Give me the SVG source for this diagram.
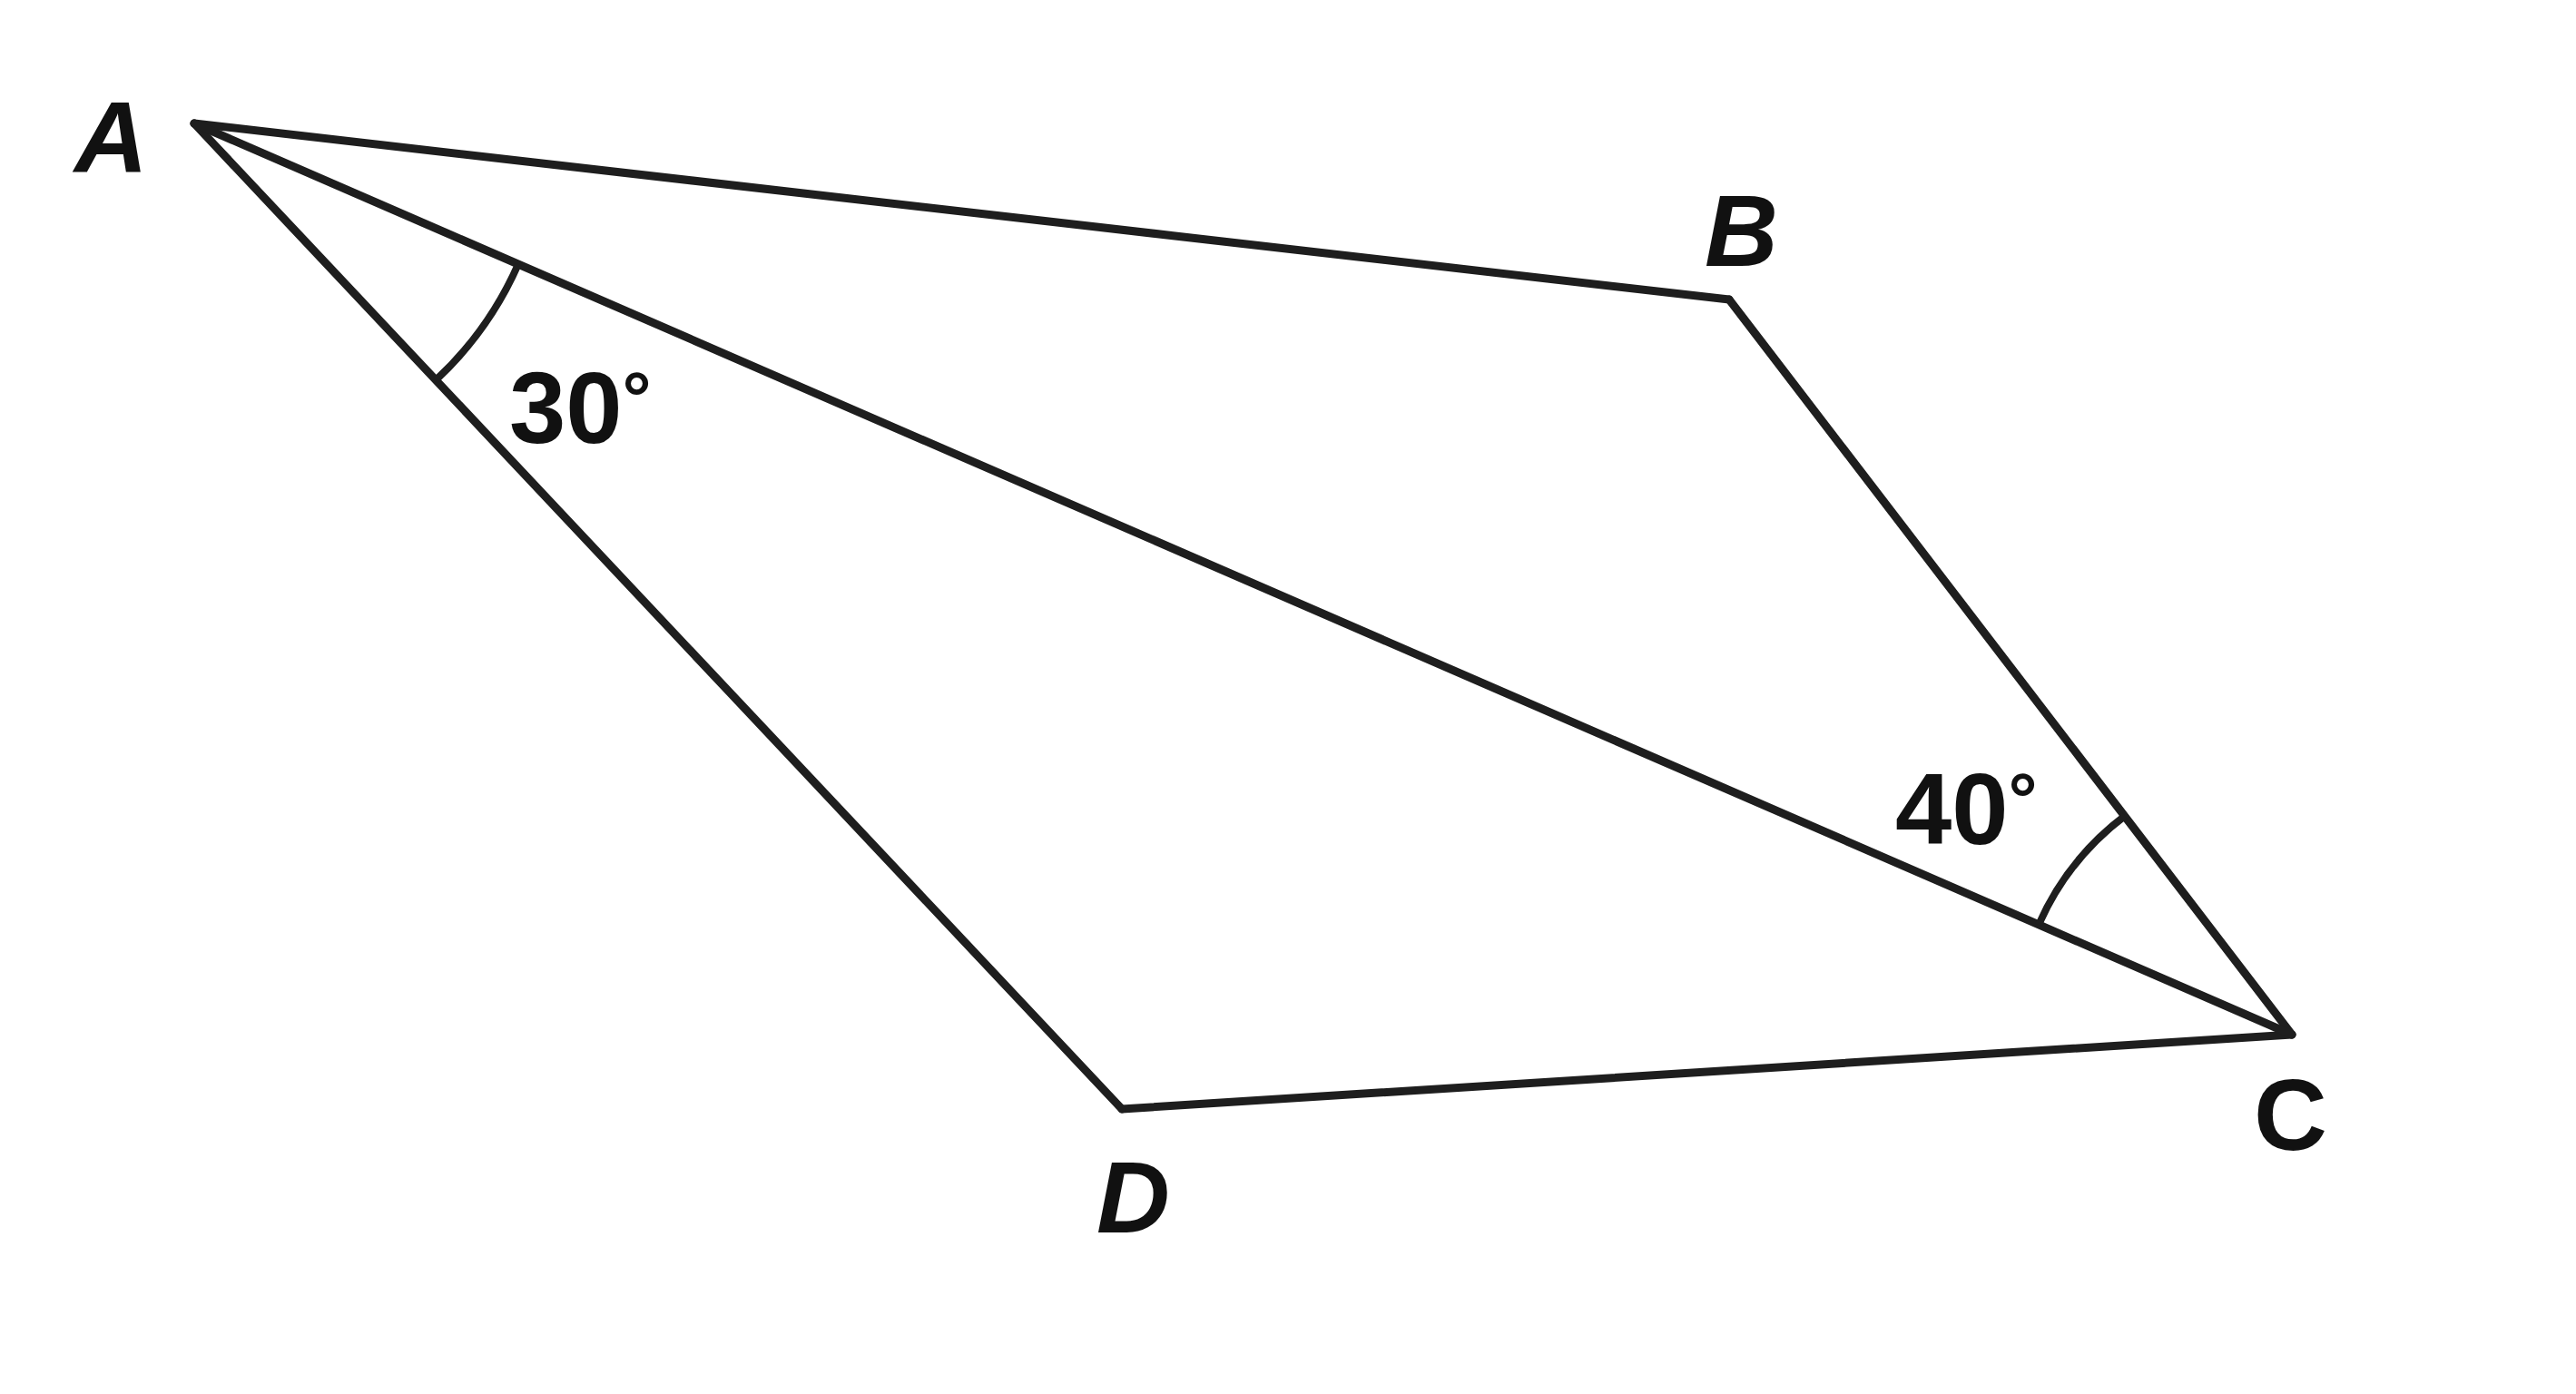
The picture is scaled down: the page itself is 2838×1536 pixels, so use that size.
<svg xmlns="http://www.w3.org/2000/svg" width="2838" height="1536" viewBox="0 0 2838 1536">
<style>
.edge{stroke:#1e1e1e;stroke-width:9;fill:none;stroke-linecap:round;stroke-linejoin:round}
.arc{stroke:#1e1e1e;stroke-width:8;fill:none}
.lbl{font-family:"Liberation Sans",Arial,sans-serif;font-size:112px;fill:#111;font-weight:bold}
.it{font-style:italic}
.deg{font-size:80px}
</style>
<rect width="2838" height="1536" fill="#ffffff"/>
<g id="connectors">
<line class="edge" x1="214" y1="136" x2="1905" y2="330"/>
<line class="edge" x1="1905" y1="330" x2="2525" y2="1140"/>
<line class="edge" x1="2525" y1="1140" x2="1236" y2="1222"/>
<line class="edge" x1="1236" y1="1222" x2="214" y2="136"/>
<line class="edge" x1="214" y1="136" x2="2525" y2="1140"/>
</g>
<g id="angle-A">
<path class="arc" d="M480 419 A389 389 0 0 0 571 291"/>
<text class="lbl" x="561" y="488">30<tspan class="deg" dy="-22">°</tspan></text>
</g>
<g id="angle-C">
<path class="arc" d="M2246 1019 A304 304 0 0 1 2341 899"/>
<text class="lbl" x="2088" y="930">40<tspan class="deg" dy="-22">°</tspan></text>
</g>
<g id="node-A"><text class="lbl it" x="82" y="190">A</text></g>
<g id="node-B"><text class="lbl it" x="1878" y="293">B</text></g>
<g id="node-C"><text class="lbl" x="2483" y="1267">C</text></g>
<g id="node-D"><text class="lbl it" x="1208" y="1358">D</text></g>
</svg>
